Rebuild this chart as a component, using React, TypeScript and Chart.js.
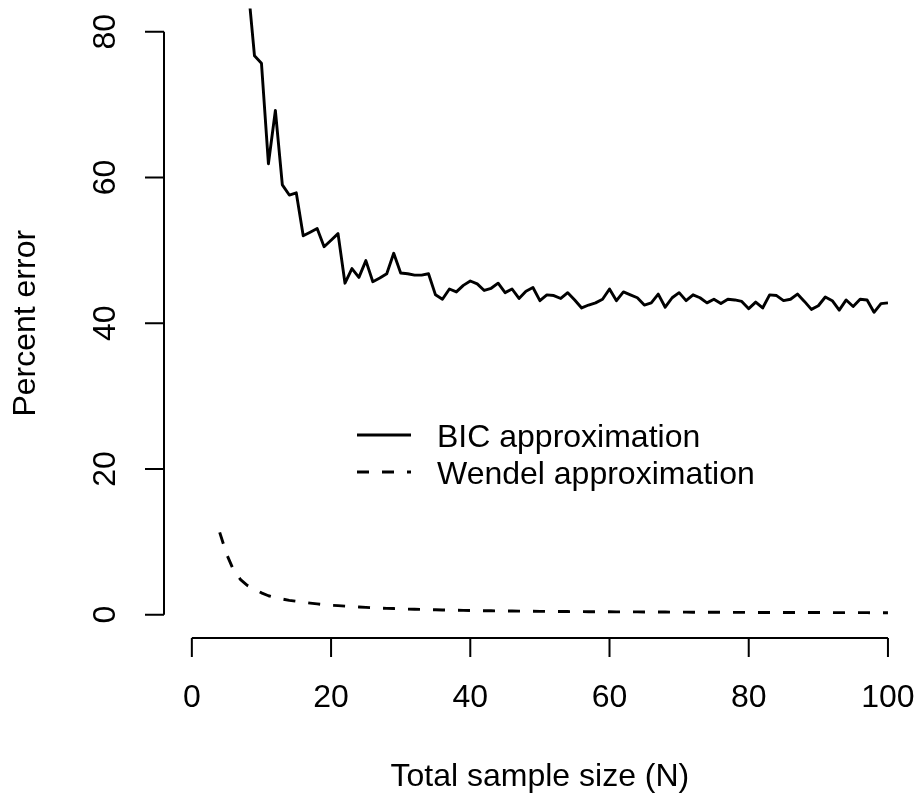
import React, { useEffect, useRef } from "react";
import { Chart, registerables } from "chart.js";

Chart.register(...registerables);

// ---- data ----
const sampleSizes = [
  4, 5, 6, 7, 8, 9, 10, 11, 12, 13, 14, 15, 16, 17, 18, 19, 20, 21, 22, 23, 24, 25, 26, 27, 28, 29,
  30, 31, 32, 33, 34, 35, 36, 37, 38, 39, 40, 41, 42, 43, 44, 45, 46, 47, 48, 49, 50, 51, 52, 53, 54,
  55, 56, 57, 58, 59, 60, 61, 62, 63, 64, 65, 66, 67, 68, 69, 70, 71, 72, 73, 74, 75, 76, 77, 78, 79,
  80, 81, 82, 83, 84, 85, 86, 87, 88, 89, 90, 91, 92, 93, 94, 95, 96, 97, 98, 99, 100,
];

const bicError = [
  150, 125, 108, 96, 87.0, 76.7, 75.7, 61.9, 69.2, 59.0, 57.6, 57.9, 52.0, 52.5, 53.0, 50.5, 51.4,
  52.3, 45.5, 47.5, 46.3, 48.6, 45.7, 46.2, 46.8, 49.6, 46.9, 46.8, 46.6, 46.6, 46.8, 43.9, 43.3,
  44.7, 44.3, 45.2, 45.8, 45.4, 44.5, 44.8, 45.5, 44.2, 44.7, 43.4, 44.4, 44.9, 43.1, 43.9, 43.8,
  43.4, 44.2, 43.2, 42.1, 42.5, 42.8, 43.3, 44.7, 43.1, 44.3, 43.9, 43.5, 42.5, 42.8, 44.0, 42.2,
  43.5, 44.2, 43.1, 43.9, 43.5, 42.8, 43.3, 42.7, 43.3, 43.2, 43.0, 42.0, 42.9, 42.1, 43.9, 43.8,
  43.1, 43.3, 44.0, 43.0, 41.9, 42.4, 43.6, 43.1, 41.8, 43.2, 42.3, 43.3, 43.2, 41.5, 42.7, 42.8,
];

const wendelError = [
  11.3, 8.3, 6.1, 4.8, 4.0, 3.5, 3.0, 2.6, 2.35, 2.15, 1.97, 1.84, 1.7, 1.58, 1.48, 1.38, 1.3, 1.24,
  1.18, 1.12, 1.06, 1.0, 0.95, 0.91, 0.87, 0.84, 0.8, 0.77, 0.74, 0.72, 0.69, 0.67, 0.65, 0.63, 0.61,
  0.59, 0.57, 0.56, 0.54, 0.53, 0.52, 0.51, 0.5, 0.49, 0.48, 0.47, 0.46, 0.45, 0.44, 0.44, 0.43, 0.42,
  0.42, 0.41, 0.41, 0.4, 0.4, 0.39, 0.39, 0.38, 0.38, 0.37, 0.37, 0.36, 0.36, 0.35, 0.35, 0.35, 0.34,
  0.34, 0.34, 0.33, 0.33, 0.33, 0.32, 0.32, 0.32, 0.31, 0.31, 0.31, 0.31, 0.3, 0.3, 0.3, 0.3, 0.29,
  0.29, 0.29, 0.29, 0.28, 0.28, 0.28, 0.28, 0.28, 0.27, 0.27, 0.27,
];

const xTicks = [0, 20, 40, 60, 80, 100];
const yTicks = [0, 20, 40, 60, 80];
const seriesLabels = ["BIC approximation", "Wendel approximation"];
const xTitle = "Total sample size (N)";
const yTitle = "Percent error";

// ---- style ----
const FONT = '32px "Liberation Sans", Arial, Helvetica, sans-serif';
const TICK = 19;
const LINE_W = 2.9;
const DASH = [12, 13];

const rAxesPlugin = {
  id: "rAxes",
  afterDraw(chart: any) {
    const ctx: CanvasRenderingContext2D = chart.ctx;
    const xs = chart.scales.x;
    const ys = chart.scales.y;
    const area = chart.chartArea;
    ctx.save();
    ctx.strokeStyle = "#000";
    ctx.fillStyle = "#000";
    ctx.lineWidth = 2;
    ctx.lineCap = "butt";
    ctx.font = FONT;

    // x axis
    const yAx = Math.round(area.bottom);
    ctx.beginPath();
    ctx.moveTo(xs.getPixelForValue(xTicks[0]), yAx);
    ctx.lineTo(xs.getPixelForValue(xTicks[xTicks.length - 1]), yAx);
    xTicks.forEach((t) => {
      const p = xs.getPixelForValue(t);
      ctx.moveTo(p, yAx);
      ctx.lineTo(p, yAx + TICK);
    });
    ctx.stroke();
    ctx.textAlign = "center";
    ctx.textBaseline = "alphabetic";
    xTicks.forEach((t) => {
      ctx.fillText(String(t), xs.getPixelForValue(t), yAx + 69);
    });
    ctx.fillText(xTitle, (xs.getPixelForValue(-4) + xs.getPixelForValue(104)) / 2, yAx + 148);

    // y axis
    const xAx = Math.round(area.left);
    ctx.beginPath();
    ctx.moveTo(xAx, ys.getPixelForValue(yTicks[0]));
    ctx.lineTo(xAx, ys.getPixelForValue(yTicks[yTicks.length - 1]));
    yTicks.forEach((t) => {
      const p = ys.getPixelForValue(t);
      ctx.moveTo(xAx, p);
      ctx.lineTo(xAx - TICK, p);
    });
    ctx.stroke();
    yTicks.forEach((t) => {
      const p = ys.getPixelForValue(t);
      ctx.save();
      ctx.translate(xAx - 49, p);
      ctx.rotate(-Math.PI / 2);
      ctx.fillText(String(t), 0, 0);
      ctx.restore();
    });
    ctx.save();
    ctx.translate(xAx - 129, (area.top + area.bottom) / 2);
    ctx.rotate(-Math.PI / 2);
    ctx.fillText(yTitle, 0, 0);
    ctx.restore();

    // legend
    const rows = [
      { y: 435, dash: [] as number[] },
      { y: 472, dash: DASH },
    ];
    ctx.textAlign = "left";
    rows.forEach((r, i) => {
      ctx.beginPath();
      ctx.lineWidth = LINE_W;
      ctx.setLineDash(r.dash);
      ctx.moveTo(357, r.y);
      ctx.lineTo(411, r.y);
      ctx.stroke();
      ctx.setLineDash([]);
      ctx.fillText(chart.data.datasets[i].label, 437, r.y + 12);
    });
    ctx.restore();
  },
};

export default function App() {
  const ref = useRef<HTMLCanvasElement | null>(null);
  useEffect(() => {
    if (!ref.current) return;
    const chart = new Chart(ref.current, {
      type: "line",
      data: {
        datasets: [
          {
            label: seriesLabels[0],
            data: sampleSizes.map((n, i) => ({ x: n, y: bicError[i] })),
            borderColor: "#000",
            borderWidth: LINE_W,
            borderJoinStyle: "round",
            pointRadius: 0,
            tension: 0,
            fill: false,
            clip: 0,
          },
          {
            label: seriesLabels[1],
            data: sampleSizes.map((n, i) => ({ x: n, y: wendelError[i] })),
            borderColor: "#000",
            borderWidth: LINE_W,
            borderDash: DASH,
            borderJoinStyle: "round",
            pointRadius: 0,
            tension: 0,
            fill: false,
            clip: 0,
          },
        ],
      },
      options: {
        animation: false,
        responsive: false,
        devicePixelRatio: 1,
        layout: { padding: { left: 164, right: 5.2, top: 8.5, bottom: 164 } },
        plugins: { legend: { display: false }, tooltip: { enabled: false } },
        scales: {
          x: { type: "linear", min: -4, max: 104, display: false },
          y: { type: "linear", min: -3.2, max: 83.2, display: false },
        },
      },
      plugins: [rAxesPlugin],
    });
    return () => chart.destroy();
  }, []);
  return (
    <div style={{ position: "fixed", left: 0, top: 0, width: 921, height: 802, background: "#fff" }}>
      <canvas ref={ref} width={921} height={802} style={{ display: "block" }} />
    </div>
  );
}
